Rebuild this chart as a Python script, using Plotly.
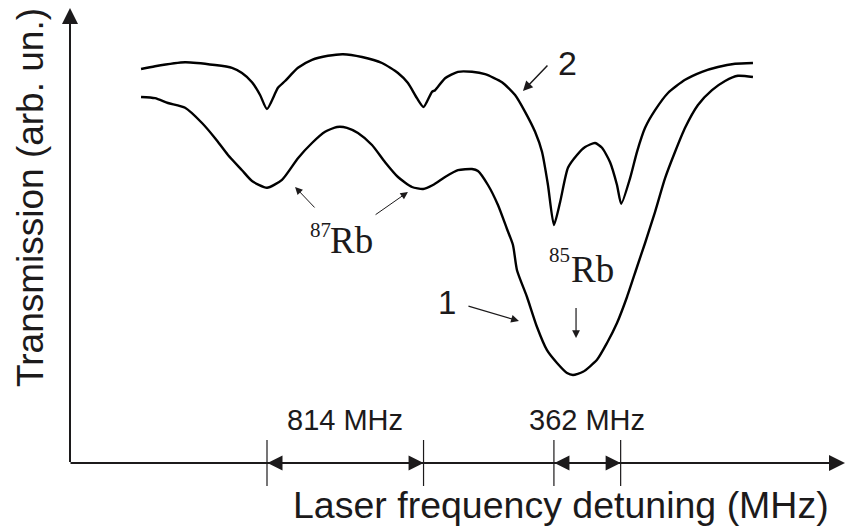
import plotly.graph_objects as go

# ---------------- data (detuning in MHz, transmission in arb. units) ----------------
curve2_x = [-655, -582, -426, -270, -182, -130, -78, -36, 0, 57, 94, 161, 234, 317, 395,
            494, 598, 681, 733, 780, 814, 858, 874, 926, 993, 1066, 1134, 1222, 1290,
            1342, 1394, 1430, 1461, 1492, 1524, 1565, 1612, 1654, 1706, 1742, 1784,
            1820, 1842, 1888, 1924, 1966, 2018, 2085, 2174, 2262, 2345, 2434, 2527]
curve2_y = [98.5, 99.2, 100.2, 99.5, 98.8, 97.5, 95.2, 92.0, 88.5, 93.8, 95.5, 98.8, 100.8,
            101.8, 102.2, 101.5, 100.0, 97.5, 95.0, 91.2, 89.0, 92.8, 93.2, 96.2, 97.8,
            97.8, 97.2, 95.2, 92.0, 87.8, 82.8, 77.8, 69.5, 59.5, 65.2, 73.8, 77.0, 79.0,
            80.0, 78.8, 75.2, 69.5, 64.8, 71.2, 77.8, 83.8, 88.2, 92.5, 95.8, 97.8, 99.0,
            99.8, 100.0]

curve1_x = [-655, -582, -515, -426, -338, -270, -203, -130, -78, 0, 78, 161, 234, 302, 364,
            416, 473, 546, 614, 681, 754, 812, 863, 926, 993, 1066, 1097, 1149, 1201, 1248,
            1279, 1300, 1352, 1404, 1456, 1508, 1560, 1591, 1643, 1716, 1768, 1820, 1872,
            1924, 1966, 2018, 2070, 2122, 2174, 2241, 2314, 2382, 2449, 2527]
curve1_y = [91.5, 91.2, 90.0, 88.8, 85.0, 81.2, 77.0, 73.2, 70.5, 68.8, 70.8, 76.2, 80.0,
            82.8, 84.0, 83.8, 82.5, 79.5, 75.2, 71.5, 69.0, 68.5, 69.5, 71.5, 73.2, 73.5,
            73.0, 69.5, 64.5, 58.5, 54.5, 48.2, 41.5, 34.0, 28.2, 25.0, 22.5, 22.0, 22.8,
            25.8, 30.0, 35.0, 41.5, 49.0, 55.0, 62.8, 71.2, 77.8, 83.8, 89.5, 93.2, 95.5,
            96.8, 96.5]

rb87_lines = [0, 814]        # 87Rb absorption positions (MHz)
rb85_lines = [1492, 1839]    # 85Rb absorption positions (MHz)
gap_labels = ["814 MHz", "362 MHz"]

x_title = "Laser frequency detuning (MHz)"
y_title = "Transmission (arb. un.)"

# ---------------- layout constants ----------------
X_RANGE = [-1388.4, 3036.8]
Y_RANGE = [-16.75, 115.75]
AX_X0 = -1024.4     # position of the drawn vertical axis
AX_Y0 = 0.0         # position of the drawn horizontal axis
AX_X_END = 3005.6
AX_Y_END = 113.75
TICK_HALF = 5.75
INK = "#1c1a1b"

fig = go.Figure()
for xs, ys in [(curve1_x, curve1_y), (curve2_x, curve2_y)]:
    fig.add_trace(go.Scatter(x=xs, y=ys, mode="lines",
                             line=dict(color="black", width=2.4, shape="spline", smoothing=0.6),
                             hoverinfo="skip", showlegend=False))

# vertical marker ticks at the line positions
tx, ty = [], []
for xv in rb87_lines + rb85_lines:
    tx += [xv, xv, None]
    ty += [AX_Y0 - TICK_HALF, AX_Y0 + TICK_HALF, None]
fig.add_trace(go.Scatter(x=tx, y=ty, mode="lines", line=dict(color=INK, width=1.2),
                         hoverinfo="skip", showlegend=False))

ann = []
def arrow(x, y, ax, ay, width=2, head=2, size=1.0, both=False):
    d = dict(x=x, y=y, ax=ax, ay=ay, xref="x", yref="y", axref="x", ayref="y",
             text=" ", font=dict(size=1, color="rgba(0,0,0,0)"), borderpad=0,
             showarrow=True, arrowhead=head, arrowsize=size, arrowwidth=width,
             arrowcolor=INK, standoff=0, startstandoff=0)
    if both:
        d.update(arrowside="end+start", startarrowhead=head, startarrowsize=size)
    ann.append(d)

# axes
arrow(AX_X0, AX_Y_END, AX_X0, AX_Y0, width=2, head=2, size=1.6)
arrow(AX_X_END, AX_Y0, AX_X0, AX_Y0, width=2, head=2, size=1.6)
# dimension arrows
arrow(rb87_lines[1], AX_Y0, rb87_lines[0], AX_Y0, width=2, head=2, size=1.5, both=True)
arrow(rb85_lines[1], AX_Y0, rb85_lines[0], AX_Y0, width=2, head=2, size=1.5, both=True)
# curve labels arrows
arrow(1331, 93, 1461, 99.5, width=1.5, head=2, size=1.3)
arrow(1310, 35.5, 1045, 39.25, width=1.2, head=2, size=1.3)
arrow(1607, 31.25, 1607, 39, width=1.2, head=2, size=1.3)
arrow(146, 69, 250, 63.75, width=1.0, head=2, size=1.5)
arrow(733, 67.75, 562, 62, width=1.0, head=2, size=1.5)

sans = "Liberation Sans, Arial, sans-serif"
serif = "Liberation Serif, Times New Roman, serif"

def label(text, x, y, size, family=sans, **kw):
    d = dict(text=text, x=x, y=y, xref="x", yref="y", showarrow=False,
             font=dict(family=family, size=size, color=INK), xanchor="center", yanchor="middle")
    d.update(kw)
    ann.append(d)

label(gap_labels[0], sum(rb87_lines) / 2, 10.75, 29)
label(gap_labels[1], sum(rb85_lines) / 2, 10.75, 29)
label("2", 1560, 100, 34)
label("1", 936, 40.25, 33)
# isotope labels: mass number drawn as a smaller raised text before "Rb"
label("85", 1521, 52.0, 21, family=serif)
label("Rb", 1693, 48.4, 37, family=serif)
label("87", 276, 58.25, 21, family=serif)
label("Rb", 439, 55.6, 37, family=serif)

ann.append(dict(text=x_title, x=560.5 / 851, y=1 - 505 / 530, xref="paper", yref="paper",
                showarrow=False, xanchor="center", yanchor="middle",
                font=dict(family=sans, size=37.5, color=INK)))
ann.append(dict(text=y_title, x=31 / 851, y=1 - 198 / 530, xref="paper", yref="paper",
                showarrow=False, xanchor="center", yanchor="middle", textangle=-90,
                font=dict(family=sans, size=37, color=INK)))

fig.update_layout(
    width=851, height=530, margin=dict(l=0, r=0, t=0, b=0),
    paper_bgcolor="white", plot_bgcolor="white",
    xaxis=dict(range=X_RANGE, visible=False, fixedrange=True),
    yaxis=dict(range=Y_RANGE, visible=False, fixedrange=True),
    annotations=ann, showlegend=False,
)
fig.write_html("out.html")
